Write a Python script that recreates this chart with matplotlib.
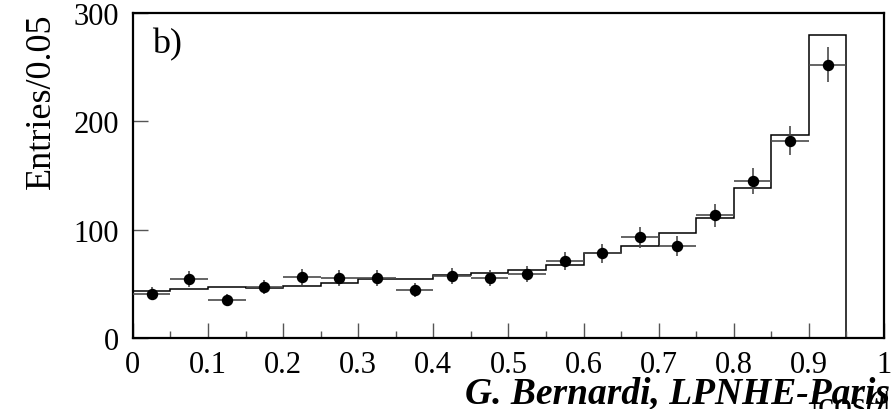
import numpy as np
import matplotlib
matplotlib.use("Agg")
import matplotlib.pyplot as plt
from matplotlib.ticker import MultipleLocator

# |cos theta| binning (0.05 wide)
bin_edges = np.round(np.arange(0.0, 1.0001, 0.05), 2)

# Measured entries per bin (points)
data_counts = [41, 54, 35, 47, 56, 55, 55, 44, 57, 55,
               59, 71, 78, 93, 85, 113, 145, 182, 252]
# Expectation histogram per bin
mc_counts = [43, 45, 47, 46, 48, 51, 54, 54, 58, 60,
             63, 67, 78, 85, 97, 111, 138, 187, 279, 0]

x_ticks = [0, 0.1, 0.2, 0.3, 0.4, 0.5, 0.6, 0.7, 0.8, 0.9, 1]
x_tick_labels = ["0", "0.1", "0.2", "0.3", "0.4", "0.5", "0.6", "0.7", "0.8", "0.9", "1"]
y_ticks = [0, 100, 200, 300]

plt.rcParams["font.family"] = ["Liberation Serif", "DejaVu Serif"]
plt.rcParams["mathtext.fontset"] = "stix"

fig = plt.figure(figsize=(8.92, 4.10), dpi=100)
ax = fig.add_axes([0.149, 0.1732, 0.842, 0.7938])

# expectation histogram
ax.stairs(mc_counts, bin_edges, color="black", lw=1.1, baseline=0)

# data points with bin-width and statistical errors
centers = 0.5 * (bin_edges[:-1] + bin_edges[1:])[:len(data_counts)]
dc = np.array(data_counts, dtype=float)
ax.errorbar(centers, dc, xerr=0.025, yerr=np.sqrt(dc), fmt="o",
            color="black", ms=7.2, ecolor="#4a4a4a", elinewidth=1.2,
            capsize=0, zorder=3)

ax.set_xlim(0, 1)
ax.set_ylim(0, 300)
ax.set_xticks(x_ticks)
ax.set_xticklabels(x_tick_labels)
ax.set_yticks(y_ticks)
ax.xaxis.set_minor_locator(MultipleLocator(0.05))
ax.tick_params(axis="both", which="major", direction="in", length=10.8,
               width=1.0, labelsize=22, color="#555555")
ax.tick_params(axis="x", which="minor", direction="in", length=5.2,
               width=1.0, color="#555555")
ax.tick_params(axis="x", which="major", pad=9)
ax.tick_params(axis="y", which="major", pad=10)
for s in ax.spines.values():
    s.set_linewidth(1.6)

ax.text(0.025, 0.955, "b)", transform=ax.transAxes, fontsize=26,
        ha="left", va="top")

fig.text(0.047, 0.967, "Entries/0.05", rotation=90, fontsize=26,
         ha="center", va="top")

# axis title, partly covered by the author stamp
fig.text(0.997, -0.04, r"|cos$\theta$|", fontsize=26, ha="right",
         va="bottom")
fig.text(0.998, 0.017, "G. Bernardi, LPNHE-Paris", fontsize=27,
         fontweight="bold", fontstyle="italic", ha="right", va="baseline")

fig.savefig("out.png", dpi=100)
